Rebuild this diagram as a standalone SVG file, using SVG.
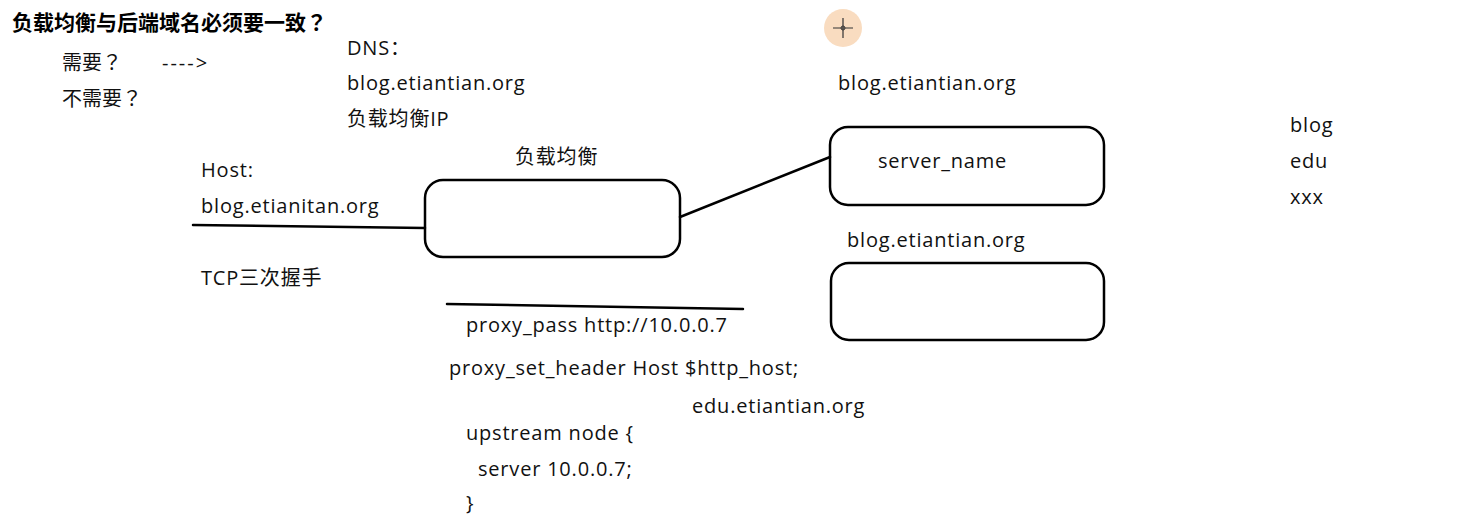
<svg xmlns="http://www.w3.org/2000/svg" width="1460" height="524" viewBox="0 0 1460 524">
<style>
text{font-family:"Open Sans","Noto Sans CJK SC",sans-serif;font-size:20px;letter-spacing:0.8px;fill:#111}
.t{font-family:"Noto Sans CJK SC",sans-serif;font-weight:bold;font-size:21px;letter-spacing:0;fill:#000}
.c{font-family:"Noto Sans CJK SC",sans-serif;letter-spacing:0}
.q{font-family:"Noto Sans CJK TC",sans-serif}
.box{fill:#fff;stroke:#000;stroke-width:2.5}
.ln{fill:none;stroke:#000;stroke-width:2.5;stroke-linecap:round}
</style>
<rect width="1460" height="524" fill="#fff"/>
<g id="title">
<text class="t" x="12" y="30">负载均衡与后端域名必须要一致<tspan class="q">？</tspan></text>
<text class="c" x="62" y="70">需要<tspan class="q">？</tspan></text>
<text x="162" y="70" style="letter-spacing:2px">----&gt;</text>
<text class="c" x="62" y="106">不需要<tspan class="q">？</tspan></text>
</g>
<g id="dns">
<text x="347" y="55">DNS：</text>
<text x="347" y="90">blog.etiantian.org</text>
<text x="347" y="126">负载均衡IP</text>
</g>
<g id="client">
<text x="201" y="177">Host:</text>
<text x="201" y="213">blog.etianitan.org</text>
<text x="201" y="285">TCP三次握手</text>
</g>
<g id="lb">
<text x="515" y="164">负载均衡</text>
<rect class="box" x="425" y="180" width="255" height="77" rx="18"/>
</g>
<g id="web1">
<text x="838" y="90">blog.etiantian.org</text>
<rect class="box" x="830" y="127" width="274" height="78" rx="18"/>
<text x="878" y="168">server_name</text>
</g>
<g id="web2">
<text x="847" y="247">blog.etiantian.org</text>
<rect class="box" x="831" y="263" width="273" height="77" rx="18"/>
</g>
<g id="config">
<text x="466" y="332">proxy_pass http://10.0.0.7</text>
<text x="449" y="375">proxy_set_header Host $http_host;</text>
<text x="692" y="413">edu.etiantian.org</text>
<text x="466" y="440">upstream node {</text>
<text x="478" y="476">server 10.0.0.7;</text>
<text x="466" y="510">}</text>
</g>
<g id="list">
<text x="1290" y="132">blog</text>
<text x="1290" y="168">edu</text>
<text x="1290" y="204">xxx</text>
</g>
<g id="cursor">
<circle cx="843" cy="28" r="19" fill="#f9dcc0"/>
<path d="M833 28H853M843 18V38" stroke="#333" stroke-width="1.2"/>
<circle cx="843" cy="28" r="2" fill="none" stroke="#333" stroke-width="1"/>
</g>
<g id="connectors">
<path class="ln" d="M193 225L425 228"/>
<path class="ln" d="M680 217L830 157"/>
<path class="ln" d="M447 304L743 309"/>
</g>
</svg>
